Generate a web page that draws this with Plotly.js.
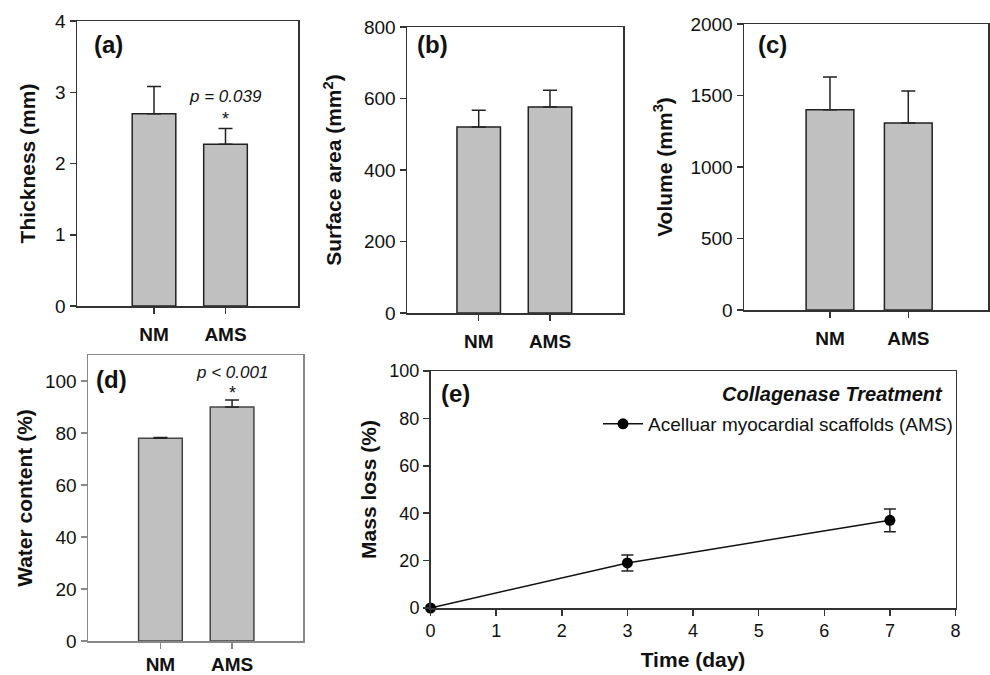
<!DOCTYPE html>
<html>
<head>
<meta charset="utf-8">
<script src="https://cdn.plot.ly/plotly-3.0.1.min.js"></script>
<style>html,body{margin:0;padding:0;background:#fff;}#chart{width:990px;height:675px;}</style>
</head>
<body>
<div id="chart"></div>
<script>
// ---- data ----
const categories = ['NM', 'AMS'];
const thickness = [2.70, 2.27];
const thicknessErr = [0.38, 0.22];
const surfaceArea = [520, 576];
const surfaceAreaErr = [47, 47];
const volume = [1400, 1307];
const volumeErr = [229, 224];
const waterContent = [78.0, 90.0];
const waterContentErr = [0.3, 2.7];
const days = [0, 3, 7];
const massLoss = [0, 19.0, 37.0];
const massLossErr = [0, 3.4, 4.8];
const seriesName = 'Acelluar myocardial scaffolds (AMS)';

const FONT = 'Liberation Sans, Arial, sans-serif';
const W = 990, H = 675;
const px = (x) => x / W;
const py = (y) => 1 - y / H;

function barTrace(y, err, xa, ya, lineColor) {
  return {
    type: 'bar', x: categories, y: y, xaxis: xa, yaxis: ya,
    width: 0.61,
    marker: {color: '#c0c0c0', line: {color: lineColor || '#222', width: 1.5}},
    error_y: {type: 'data', symmetric: false, array: err, arrayminus: err.map(() => 0),
              color: '#222', thickness: 1.5, width: 7},
    showlegend: false, hoverinfo: 'skip'
  };
}

const traces = [
  barTrace(thickness, thicknessErr, 'x', 'y'),
  barTrace(surfaceArea, surfaceAreaErr, 'x2', 'y2'),
  barTrace(volume, volumeErr, 'x3', 'y3'),
  barTrace(waterContent, waterContentErr, 'x4', 'y4', '#444'),
  {
    type: 'scatter', mode: 'lines+markers', x: days, y: massLoss, xaxis: 'x5', yaxis: 'y5',
    name: seriesName,
    line: {color: '#111', width: 1.5},
    marker: {color: '#000', size: 11},
    error_y: {type: 'data', array: massLossErr, color: '#222', thickness: 1.5, width: 6},
    cliponaxis: false, showlegend: true
  }
];

const tickFont = {family: FONT, size: 19, color: '#111'};
const tickFontE = {family: FONT, size: 18, color: '#111'};
const catFont = {family: FONT, size: 19, color: '#111', weight: 'bold'};
const titleFont = {family: FONT, size: 21, color: '#111', weight: 'bold'};
const labelFont = {family: FONT, size: 24, color: '#111', weight: 'bold'};

function xCat(domain, range, lineColor, standoff) {
  return {domain: domain, type: 'category', range: range, showline: true, mirror: true,
    linecolor: lineColor || '#333', linewidth: 1.5, ticks: 'outside', ticklen: 6, tickwidth: 1.5,
    tickcolor: lineColor || '#333', tickfont: catFont, ticklabelstandoff: standoff || 0,
    showgrid: false, zeroline: false, fixedrange: true};
}
function yLin(domain, range, dtick, title, standoff, lineColor, tf) {
  return {domain: domain, range: range, dtick: dtick, tick0: 0, showline: true, mirror: true,
    linecolor: lineColor || '#333', linewidth: 1.5, ticks: 'outside', ticklen: 6, tickwidth: 1.5,
    tickcolor: lineColor || '#333', tickfont: tf || tickFont, showgrid: false, zeroline: false,
    title: {text: title, font: titleFont, standoff: standoff}, fixedrange: true};
}

function label(x, y, t) {
  return {xref: 'paper', yref: 'paper', x: px(x), y: py(y), xanchor: 'center', yanchor: 'middle',
    text: t, showarrow: false, font: labelFont};
}

const layout = {
  width: W, height: H,
  margin: {l: 0, r: 0, t: 0, b: 0},
  paper_bgcolor: '#fff', plot_bgcolor: '#fff',
  font: {family: FONT, color: '#111'},
  bargap: 0.3,
  xaxis: Object.assign(xCat([px(77), px(298)], [-1.077, 2.014], null, 5), {anchor: 'y'}),
  yaxis: Object.assign(yLin([py(306), py(21)], [0, 4], 1, 'Thickness (mm)', 14), {anchor: 'x'}),
  xaxis2: Object.assign(xCat([px(407), px(623)], [-1.006, 2.024], null, 5), {anchor: 'y2'}),
  yaxis2: Object.assign(yLin([py(313), py(27)], [0, 800], 200, 'Surface area (mm<sup>2</sup>)', 16), {anchor: 'x2'}),
  xaxis3: Object.assign(xCat([px(744), px(988)], [-1.098, 2.018], null, 5), {anchor: 'y3'}),
  yaxis3: Object.assign(yLin([py(310), py(24)], [0, 2000], 500, 'Volume (mm<sup>3</sup>)', 12), {anchor: 'x3'}),
  xaxis4: Object.assign(xCat([px(88), px(303)], [-1.011, 1.99], '#888', 0), {anchor: 'y4'}),
  yaxis4: Object.assign(yLin([py(641), py(355)], [0, 110], 20, 'Water content (%)', 6, '#888'), {anchor: 'x4'}),
  xaxis5: {domain: [px(430.5), px(955.5)], range: [0, 8], dtick: 1, tick0: 0, anchor: 'y5',
    showline: true, mirror: true, linecolor: '#333', linewidth: 1.5, ticks: 'outside', ticklen: 6,
    tickwidth: 1.5, tickcolor: '#333', tickfont: tickFontE, showgrid: false, zeroline: false,
    title: {text: 'Time (day)', font: titleFont, standoff: 12}, fixedrange: true},
  yaxis5: Object.assign(yLin([py(608), py(371)], [0, 100], 20, 'Mass loss (%)', 7, null, tickFontE), {anchor: 'x5'}),
  showlegend: true,
  legend: {x: px(958), xanchor: 'right', y: py(424), yanchor: 'middle', bgcolor: 'rgba(0,0,0,0)',
    font: {family: FONT, size: 19, color: '#111'}, itemwidth: 40, tracegroupgap: 0},
  annotations: [
    label(108, 45, '(a)'),
    label(432, 45, '(b)'),
    label(772, 45, '(c)'),
    label(111, 379, '(d)'),
    label(455, 393, '(e)'),
    {xref: 'x', yref: 'y', x: 'AMS', y: 2.94, text: 'p = 0.039', showarrow: false,
      xanchor: 'center', yanchor: 'middle',
      font: {family: FONT, size: 17, color: '#111', style: 'italic'}},
    {xref: 'x', yref: 'y', x: 'AMS', y: 2.62, text: '*', showarrow: false,
      xanchor: 'center', yanchor: 'middle', font: {family: FONT, size: 18, color: '#111'}},
    {xref: 'x4', yref: 'y4', x: 'AMS', y: 103.2, text: 'p < 0.001', showarrow: false,
      xanchor: 'center', yanchor: 'middle',
      font: {family: FONT, size: 17, color: '#111', style: 'italic'}},
    {xref: 'x4', yref: 'y4', x: 'AMS', y: 95.4, text: '*', showarrow: false,
      xanchor: 'center', yanchor: 'middle', font: {family: FONT, size: 18, color: '#111'}},
    {xref: 'paper', yref: 'paper', x: px(945), xanchor: 'right', y: py(394), yanchor: 'middle',
      text: 'Collagenase Treatment', showarrow: false,
      font: {family: FONT, size: 20, color: '#111', weight: 'bold', style: 'italic'}}
  ]
};

Plotly.newPlot('chart', traces, layout, {displayModeBar: false, staticPlot: true});
</script>
</body>
</html>
